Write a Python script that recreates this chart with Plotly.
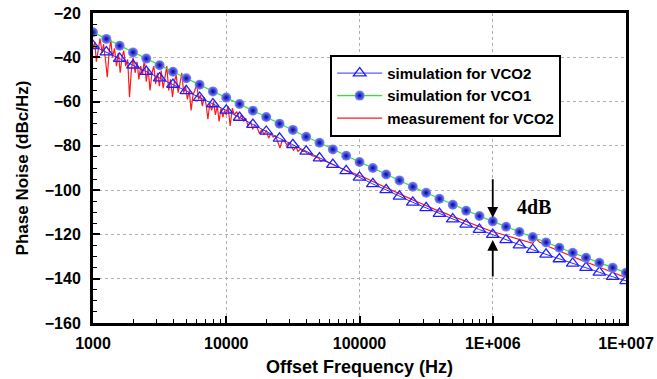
import plotly.graph_objects as go

# ---------------- data ----------------
sim_freq = [1000, 1259, 1585, 1995, 2512, 3162, 3981, 5012, 6310, 7943,
            10000, 12589, 15849, 19953, 25119, 31623, 39811, 50119, 63096, 79433,
            100000, 125893, 158489, 199526, 251189, 316228, 398107, 501187, 630957, 794328,
            1000000, 1258925, 1584893, 1995262, 2511886, 3162278, 3981072, 5011872, 6309573, 7943282,
            10000000]

sim_vco2 = [-34.8, -37.7, -40.6, -43.6, -46.5, -49.4, -52.3, -55.2, -58.2, -61.1,
            -64.0, -67.2, -70.4, -73.5, -76.6, -79.5, -82.5, -85.5, -88.5, -91.3,
            -94.2, -97.2, -99.9, -102.8, -105.5, -108.0, -110.6, -113.1, -115.5, -117.8,
            -120.1, -122.5, -124.8, -126.9, -129.0, -131.1, -133.1, -135.0, -137.1, -139.1,
            -141.0]

sim_vco1 = [-28.7, -31.7, -34.8, -37.8, -40.6, -43.6, -46.5, -49.5, -52.4, -55.4,
            -58.2, -61.1, -64.1, -67.0, -70.0, -72.8, -75.9, -78.6, -81.6, -84.5,
            -87.3, -90.0, -92.9, -95.6, -98.5, -101.2, -103.9, -106.6, -109.3, -111.7,
            -114.1, -116.5, -118.9, -121.2, -123.6, -126.0, -128.3, -130.5, -132.8, -135.0,
            -137.3]

meas_freq = [1000, 1030, 1060, 1100, 1130, 1170, 1200, 1240, 1280, 1320, 1360, 1400, 1450,
             1500, 1550, 1600, 1650, 1700, 1760, 1820, 1880, 1940, 2000, 2070, 2140, 2210,
             2280, 2350, 2430, 2510, 2590, 2680, 2770, 2860, 2950, 3050, 3150, 3250, 3360,
             3470, 3580, 3700, 3820, 3950, 4080, 4210, 4350, 4490, 4640, 4790, 4950, 5110,
             5280, 5450, 5630, 5810, 6000, 6200, 6400, 6610, 6830, 7050, 7280, 7520, 7770,
             8030, 8290, 8560, 8840, 9130, 9430, 9740,
             10000, 10300, 10700, 11100, 11500, 12000, 12500, 13000, 13500, 14000, 14600,
             15200, 15800, 16400, 17100, 17800, 18500, 19200, 20000, 20800, 21600, 22500,
             23400, 24300, 25300, 26300, 27400, 28500, 29600, 30800, 32000, 33300, 34600,
             36000, 37500, 39000, 40600, 42200, 43900, 45600, 47400, 49300, 51300, 53400,
             55500, 57700, 60000, 62400, 64900, 67500, 70200, 73000, 75900, 79000, 82100,
             85400, 88800, 92400, 96100,
             100000, 112000, 126000, 141000, 158000, 178000, 200000, 224000, 251000, 282000,
             316000, 355000, 398000, 447000, 501000, 562000, 631000, 708000, 794000, 891000,
             1000000, 1120000, 1260000, 1410000, 1580000, 1780000, 2000000, 2100000, 2240000,
             2510000, 2820000, 3160000, 3550000, 3980000, 4470000, 5010000, 5620000, 6310000,
             7080000, 7940000, 8910000, 10000000]

meas_val = [-36, -33, -42, -35, -31.5, -38, -34, -41, -49, -38, -32, -40, -36,
            -44, -38, -47, -40, -37, -44, -41, -58, -46, -40, -47, -42, -50,
            -44, -48, -41, -51, -45, -55, -47, -44, -52, -47, -53, -46, -54,
            -49, -44, -55, -50, -58, -51, -48, -56, -52, -47, -56, -53, -59,
            -55, -64, -57, -55, -51.5, -59, -57, -62, -58, -61, -68, -61, -64,
            -60, -66, -62, -69, -63, -67, -64,
            -66, -62, -71, -63, -66, -64.5, -68, -66, -69, -67.5, -71,
            -69, -72.5, -70.5, -72, -74.5, -72.5, -75, -73, -76.5, -74.5, -76,
            -75.5, -78, -81, -77.5, -78, -79.5, -78.5, -80.5, -82, -80.5, -82.5,
            -81.5, -82.5, -82.4, -83.4, -83.6, -84.4, -84.6, -85.2, -85.4, -87, -86.4,
            -87.0, -87.4, -87.9, -88.3, -88.8, -89.3, -89.6, -90.2, -90.5, -91.0, -91.4,
            -91.8, -92.2, -92.6, -92.9,
            -93.3, -94.6, -96.1, -97.5, -98.9, -100.3, -101.7, -103.2, -104.4, -105.7,
            -107.1, -108.3, -109.6, -110.6, -112.0, -113.0, -114.2, -115.3, -116.6, -117.6,
            -118.8, -119.6, -120.5, -121.5, -122.2, -123.2, -124.0, -121.8, -123.4,
            -125.0, -126.3, -127.6, -128.8, -130.0, -131.2, -132.5, -133.6, -134.8,
            -136.0, -137.2, -138.3, -139.5]

x_tick_vals = [1000, 10000, 100000, 1000000, 10000000]
x_tick_text = ["1000", "10000", "100000", "1E+006", "1E+007"]
y_tick_vals = [-20, -40, -60, -80, -100, -120, -140, -160]

FONT = "Liberation Sans"

fig = go.Figure()

fig.add_trace(go.Scatter(
    x=meas_freq, y=meas_val, mode="lines", name="measurement for VCO2",
    line=dict(color="#ff1a1a", width=1.2), legendrank=3))

fig.add_trace(go.Scatter(
    x=sim_freq, y=sim_vco2, mode="lines+markers", name="simulation for VCO2",
    line=dict(color="#3030ff", width=1),
    marker=dict(symbol="triangle-up-open", size=11, color="#2020ff",
                line=dict(width=1.3, color="#2020ff")),
    legendrank=1))

fig.add_trace(go.Scatter(
    x=sim_freq, y=sim_vco1, mode="lines+markers", name="simulation for VCO1",
    line=dict(color="#22ee22", width=1.2),
    marker=dict(symbol="circle", size=10, color="#8090ff",
                gradient=dict(type="radial", color="#0000a0"),
                line=dict(width=0)),
    legendrank=2))

# arrows and label
fig.add_annotation(x=6, y=-112.5, xref="x", yref="y", text="", showarrow=True,
                   ax=0, ay=-40, arrowhead=2, arrowsize=1.2, arrowwidth=1.8,
                   arrowcolor="black")
fig.add_annotation(x=6, y=-122.5, xref="x", yref="y", text="", showarrow=True,
                   ax=0, ay=38, arrowhead=2, arrowsize=1.2, arrowwidth=1.8,
                   arrowcolor="black")
fig.add_annotation(x=6.31, y=-107.6, xref="x", yref="y", text="4dB", showarrow=False,
                   font=dict(family="Liberation Serif", size=20, color="black",
                             weight="bold"))

minor_x = [m * 10 ** e for e in range(3, 7) for m in range(2, 10)]
minor_y = [v for v in range(-155, -20, 5) if v % 20 != 0]

fig.update_layout(
    width=657, height=379,
    margin=dict(l=93, r=31, t=13, b=56, autoexpand=False),
    paper_bgcolor="white", plot_bgcolor="white",
    font=dict(family=FONT, color="black"),
    showlegend=True,
    legend=dict(x=0.445, y=0.865, xanchor="left", yanchor="top",
                bgcolor="white", bordercolor="black", borderwidth=2,
                font=dict(family=FONT, size=15, color="black", weight="bold"),
                itemwidth=45, tracegroupgap=0),
    xaxis=dict(
        type="log", range=[3, 7], automargin=False,
        tickmode="array", tickvals=x_tick_vals, ticktext=x_tick_text,
        ticks="inside", ticklen=7, tickwidth=1.5, tickcolor="black",
        tickfont=dict(family=FONT, size=16, color="black", weight="bold"),
        ticklabelstandoff=4,
        showline=True, linewidth=3, linecolor="black", mirror=True,
        showgrid=True, gridcolor="#b0b0b0", gridwidth=1, griddash="dot",
        zeroline=False,
        minor=dict(tickmode="array", tickvals=minor_x, ticks="inside", ticklen=4,
                   tickwidth=1, tickcolor="black", showgrid=False),
        title=dict(text="Offset Frequency (Hz)", standoff=10,
                   font=dict(family=FONT, size=18, color="black", weight="bold")),
    ),
    yaxis=dict(
        range=[-160, -20], automargin=False,
        tickmode="array", tickvals=y_tick_vals,
        ticks="inside", ticklen=7, tickwidth=1.5, tickcolor="black",
        tickfont=dict(family=FONT, size=16, color="black", weight="bold"),
        ticklabelstandoff=6,
        showline=True, linewidth=3, linecolor="black", mirror=True,
        showgrid=True, gridcolor="#b0b0b0", gridwidth=1, griddash="dot",
        zeroline=False,
        minor=dict(tickmode="array", tickvals=minor_y, ticks="inside", ticklen=4,
                   tickwidth=1, tickcolor="black", showgrid=False),
        title=dict(text="Phase Noise (dBc/Hz)", standoff=12,
                   font=dict(family=FONT, size=17, color="black", weight="bold")),
    ),
)

fig.write_html("out.html")
